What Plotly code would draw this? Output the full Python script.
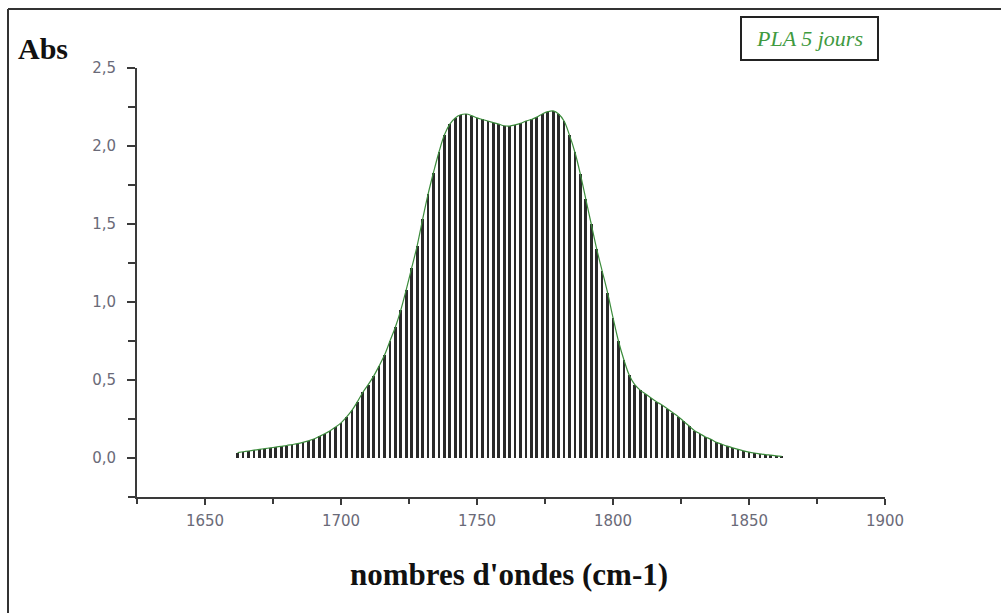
import plotly.graph_objects as go

# FTIR absorbance of PLA after 5 days, carbonyl region
wavenumber = [
    1662, 1664, 1666, 1668, 1670, 1672, 1674, 1676, 1678, 1680,
    1682, 1684, 1686, 1688, 1690, 1692, 1694, 1696, 1698, 1700,
    1702, 1704, 1706, 1708, 1710, 1712, 1714, 1716, 1718, 1720,
    1722, 1724, 1726, 1728, 1730, 1732, 1734, 1736, 1738, 1740,
    1742, 1744, 1746, 1748, 1750, 1752, 1754, 1756, 1758, 1760,
    1762, 1764, 1766, 1768, 1770, 1772, 1774, 1776, 1778, 1780,
    1782, 1784, 1786, 1788, 1790, 1792, 1794, 1796, 1798, 1800,
    1802, 1804, 1806, 1808, 1810, 1812, 1814, 1816, 1818, 1820,
    1822, 1824, 1826, 1828, 1830, 1832, 1834, 1836, 1838, 1840,
    1842, 1844, 1846, 1848, 1850, 1852, 1854, 1856, 1858, 1860,
    1862,
]
absorbance = [
    0.035, 0.040, 0.045, 0.050, 0.055, 0.060, 0.065, 0.070, 0.075, 0.080,
    0.086, 0.092, 0.100, 0.110, 0.122, 0.138, 0.155, 0.175, 0.198, 0.225,
    0.262, 0.305, 0.360, 0.420, 0.470, 0.525, 0.590, 0.660, 0.750, 0.840,
    0.950, 1.080, 1.220, 1.360, 1.530, 1.690, 1.830, 1.960, 2.070, 2.140,
    2.180, 2.200, 2.205, 2.195, 2.180, 2.170, 2.160, 2.150, 2.140, 2.130,
    2.128, 2.135, 2.145, 2.160, 2.170, 2.185, 2.205, 2.220, 2.225, 2.205,
    2.160, 2.070, 1.960, 1.820, 1.660, 1.500, 1.340, 1.200, 1.060, 0.900,
    0.750, 0.630, 0.530, 0.470, 0.435, 0.410, 0.385, 0.360, 0.340, 0.315,
    0.290, 0.265, 0.235, 0.205, 0.175, 0.155, 0.135, 0.120, 0.100, 0.088,
    0.076, 0.065, 0.055, 0.046, 0.038, 0.032, 0.027, 0.022, 0.018, 0.014,
    0.011,
]

x_ticks = [1650, 1700, 1750, 1800, 1850, 1900]
y_ticks = [0.0, 0.5, 1.0, 1.5, 2.0, 2.5]

series_name = "PLA 5 jours"
x_title = "nombres d'ondes (cm-1)"
y_title = "Abs"

fig = go.Figure()

# drop lines from the baseline to each point
fig.add_trace(go.Bar(
    x=wavenumber, y=absorbance, width=1.0,
    marker=dict(color="#2a2a2a", line=dict(width=0)),
    showlegend=False, hoverinfo="skip",
))
# envelope of the spectrum
fig.add_trace(go.Scatter(
    x=wavenumber, y=absorbance, mode="lines",
    line=dict(color="#3c8c3c", width=1.2, shape="spline"),
    name=series_name, showlegend=False,
))

tick_font = dict(family="DejaVu Sans, Verdana, sans-serif", size=15, color="#6a6a78")
axis_color = "#3a3a3a"

fig.update_xaxes(
    range=[1625, 1900], tickvals=x_ticks, tickformat="d",
    showline=True, linecolor=axis_color, linewidth=2,
    ticks="outside", ticklen=6, tickwidth=2, tickcolor=axis_color,
    minor=dict(dtick=25, tick0=1625, ticks="outside", ticklen=5, tickwidth=2, tickcolor=axis_color),
    showgrid=False, zeroline=False, tickfont=tick_font, ticklabelstandoff=3,
)
fig.update_yaxes(
    range=[-0.25, 2.5], tickvals=y_ticks, tickformat=".1f",
    showline=True, linecolor=axis_color, linewidth=2,
    ticks="outside", ticklen=8, tickwidth=2, tickcolor=axis_color,
    minor=dict(dtick=0.25, tick0=0, ticks="outside", ticklen=7, tickwidth=2, tickcolor=axis_color),
    showgrid=False, zeroline=False, tickfont=tick_font, ticklabelstandoff=8,
)

# plot area in pixels: x 137..885, y 68..497
L, R, T, B = 137, 885, 68, 497
W, H = R - L, B - T
px = lambda p: (p - L) / W
py = lambda p: (B - p) / H

fig.update_layout(
    width=1001, height=613,
    margin=dict(l=L, r=1001 - R, t=T, b=613 - B),
    paper_bgcolor="white", plot_bgcolor="white",
    separators=", ",
    bargap=0,
    shapes=[
        # outer frame (top and left edges visible)
        dict(type="line", xref="paper", yref="paper",
             x0=px(8), x1=px(1001), y0=py(9), y1=py(9),
             line=dict(color="#333333", width=2), layer="below"),
        dict(type="line", xref="paper", yref="paper",
             x0=px(8), x1=px(8), y0=py(9), y1=py(613),
             line=dict(color="#333333", width=2), layer="below"),
        # series label box
        dict(type="rect", xref="paper", yref="paper",
             x0=px(741), x1=px(878), y0=py(60), y1=py(17),
             line=dict(color="#222222", width=2)),
    ],
    annotations=[
        dict(text=series_name, xref="paper", yref="paper",
             x=px(809.5), y=py(39), xanchor="center", yanchor="middle",
             showarrow=False,
             font=dict(family="Liberation Serif, Times New Roman, serif", size=22,
                       color="#3f9a3f", style="italic")),
        dict(text="<b>" + y_title + "</b>", xref="paper", yref="paper",
             x=px(16), y=py(48), xanchor="left", yanchor="middle",
             showarrow=False,
             font=dict(family="Liberation Serif, Times New Roman, serif", size=30, color="#111111")),
        dict(text="<b>" + x_title + "</b>", xref="paper", yref="paper",
             x=px(509), y=py(574), xanchor="center", yanchor="middle",
             showarrow=False,
             font=dict(family="Liberation Serif, Times New Roman, serif", size=31, color="#111111")),
    ],
)

fig.write_html("out.html")
